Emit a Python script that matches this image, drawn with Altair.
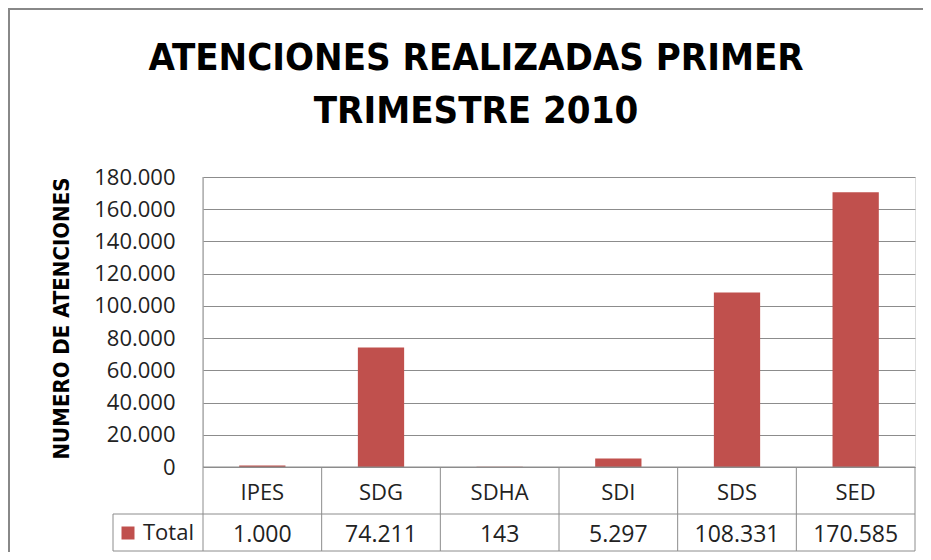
import altair as alt
import pandas as pd

categories = ["IPES", "SDG", "SDHA", "SDI", "SDS", "SED"]
totals = [1000, 74211, 143, 5297, 108331, 170585]
title_lines = ["ATENCIONES REALIZADAS PRIMER", "TRIMESTRE 2010"]
y_title = "NUMERO DE ATENCIONES"
series_name = "Total"
y_ticks = [0, 20000, 40000, 60000, 80000, 100000, 120000, 140000, 160000, 180000]

df = pd.DataFrame({"cat": categories, "value": totals})
one = pd.DataFrame({"a": [0]})

W, H = 712, 290
ROW1, ROW2 = 337, 374
BAR = "#C0504D"
LINE = "#8c8c8c"
TITLE_FONT = "Liberation Sans Narrow, DejaVu Sans Condensed, sans-serif"
BODY_FONT = "Open Sans, Lato, sans-serif"

xenc = alt.X("cat:N", sort=categories, axis=None,
             scale=alt.Scale(paddingInner=0, paddingOuter=0))

bars = alt.Chart(df).mark_bar(color=BAR, width=alt.RelativeBandSize(0.39)).encode(
    x=xenc,
    y=alt.Y("value:Q", scale=alt.Scale(domain=[0, 180000], nice=False),
            axis=alt.Axis(values=y_ticks,
                          labelExpr="replace(format(datum.value, ',d'), ',', '.')",
                          title=y_title, titleFont=TITLE_FONT, titleFontSize=22,
                          titleFontWeight="bold", titleColor="#000",
                          titleAngle=-90, titleX=-142, titleY=H / 2 - 4,
                          titleAlign="center", titleBaseline="middle",
                          labelFont=BODY_FONT, labelFontSize=22, labelColor="#222",
                          labelPadding=28, ticks=False, domain=False,
                          grid=True, gridColor=LINE, gridWidth=1)),
)

# table: category names and values
cat_text = alt.Chart(df).mark_text(font=BODY_FONT, fontSize=22, color="#222",
                                   baseline="middle").encode(
    x=xenc, y=alt.value(316), text="cat:N")
val_text = alt.Chart(df).transform_calculate(
    lab="replace(format(datum.value, ','), ',', '.')"
).mark_text(font=BODY_FONT, fontSize=23, color="#222", baseline="middle").encode(
    x=xenc, y=alt.value(358), text="lab:N")

vsep = alt.Chart(df).mark_rule(color=LINE).encode(
    x=alt.X("cat:N", sort=categories, axis=None, bandPosition=0,
            scale=alt.Scale(paddingInner=0, paddingOuter=0)),
    y=alt.value(H), y2=alt.value(ROW2))

def rule(x, x2, y, y2, color=LINE, w=1):
    return alt.Chart(one).mark_rule(color=color, strokeWidth=w).encode(
        x=alt.value(x), x2=alt.value(x2), y=alt.value(y), y2=alt.value(y2))

lines = [
    rule(W, W, H, ROW2),          # table right edge
    rule(0, 0, 0, H),             # plot left edge
    rule(0, W, H, H),             # baseline
    rule(-90, W, ROW1, ROW1),     # row divider
    rule(-90, W, ROW2, ROW2),     # table bottom
    rule(-90, -90, ROW1, ROW2),   # legend cell left
    rule(-194, -194, -169, 375, "#888888", 2),   # outer border left
    rule(-195, W + 8, -168, -168, "#888888", 2),  # outer border top
]

legend_sq = alt.Chart(one).mark_square(color=BAR, opacity=1, filled=True).encode(
    x=alt.value(-75), y=alt.value(356), size=alt.value(169))
legend_txt = alt.Chart(pd.DataFrame({"t": [series_name]})).mark_text(
    font=BODY_FONT, fontSize=22, color="#222", align="left", baseline="middle").encode(
    x=alt.value(-60), y=alt.value(356), text="t:N")

titles = alt.Chart(pd.DataFrame({"t": title_lines, "yy": [-107, -54]})).mark_text(
    font=TITLE_FONT, fontSize=38, fontWeight="bold", color="#000",
    align="center", baseline="alphabetic").encode(
    x=alt.value(273), y=alt.Y("yy:Q", scale=None), text="t:N")

chart = alt.layer(bars, vsep, *lines, cat_text, val_text, legend_sq, legend_txt, titles).properties(
    width=W, height=H,
    autosize=alt.AutoSizeParams(type="none"),
    padding={"left": 195, "top": 169, "right": 8, "bottom": 85},
).configure_view(stroke=None).configure(background="white")

chart.save("out.html", embed_options={"renderer": "svg", "actions": False})
